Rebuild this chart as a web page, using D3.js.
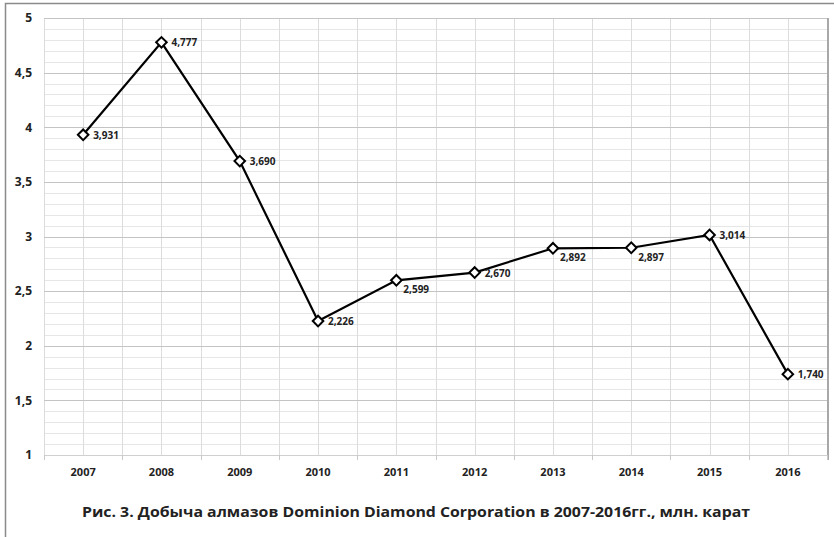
<!DOCTYPE html>
<html><head><meta charset="utf-8">
<script src="https://cdn.jsdelivr.net/npm/d3@7"></script>
<style>body{margin:0;background:#fff}svg{display:block}</style>
</head><body>
<svg id="c" width="834" height="537"></svg>
<script>
const years = ["2007","2008","2009","2010","2011","2012","2013","2014","2015","2016"];
const values = [3.931,4.777,3.690,2.226,2.599,2.670,2.892,2.897,3.014,1.740];
const labels = ["3,931","4,777","3,690","2,226","2,599","2,670","2,892","2,897","3,014","1,740"];
// label placement: "r" = right, "br" = below-right
const labelPos = ["r","r","r","r","br","r","br","br","r","r"];
const yTicks = [1,1.5,2,2.5,3,3.5,4,4.5,5];
const title = "Рис. 3. Добыча алмазов Dominion Diamond Corporation в 2007-2016гг., млн. карат";

const svg = d3.select("#c");
const font = "'Open Sans', 'DejaVu Sans', sans-serif";
const L = 44, R = 827, T = 18, B = 455;

svg.append("rect").attr("x",5.5).attr("y",3.5).attr("width",900).attr("height",600)
  .attr("fill","none").attr("stroke","#8a8a8a").attr("stroke-width",1.5);

const x = d3.scaleBand().domain(years).range([L,R]);
const y = d3.scaleLinear().domain([1,5]).range([B,T]);

const g = svg.append("g");
const minor = d3.range(10,51).map(d=>d/10).filter(v=>Math.abs(v*2-Math.round(v*2))>1e-6);
g.selectAll(".hm").data(minor).join("line")
  .attr("x1",L).attr("x2",R).attr("y1",d=>Math.round(y(d))+0.5).attr("y2",d=>Math.round(y(d))+0.5)
  .attr("stroke","#e6e6e6").attr("stroke-width",1);
const vlines = [];
years.forEach(yr=>{vlines.push(x(yr)); vlines.push(x(yr)+x.bandwidth()/2);});
vlines.push(R);
g.selectAll(".vg").data(vlines).join("line")
  .attr("x1",d=>Math.round(d)+0.5).attr("x2",d=>Math.round(d)+0.5).attr("y1",T).attr("y2",B)
  .attr("stroke","#dcdcdc").attr("stroke-width",1);
g.selectAll(".hM").data(yTicks).join("line")
  .attr("x1",L).attr("x2",R).attr("y1",d=>Math.round(y(d))+0.5).attr("y2",d=>Math.round(y(d))+0.5)
  .attr("stroke","#c4c4c4").attr("stroke-width",1);
g.append("line").attr("x1",R+1).attr("x2",R+1).attr("y1",T).attr("y2",B+5)
  .attr("stroke","#a8a8a8").attr("stroke-width",2);

const xa = svg.append("g").attr("transform",`translate(0,${B})`)
  .call(d3.axisBottom(x).tickSize(0).tickPadding(13));
xa.select(".domain").attr("stroke","#d0d0d0");
xa.selectAll("text").attr("font-family",font).attr("font-size",11).attr("font-weight","bold").attr("fill","#222");
svg.append("g").selectAll("line").data(years.map(yr=>x(yr)).concat([R])).join("line")
  .attr("x1",d=>Math.round(d)+0.5).attr("x2",d=>Math.round(d)+0.5).attr("y1",B).attr("y2",B+5)
  .attr("stroke","#c8c8c8");

const ya = svg.append("g").attr("transform",`translate(${L},0)`)
  .call(d3.axisLeft(y).tickValues(yTicks).tickSize(0).tickPadding(12)
    .tickFormat(d=>String(d).replace(".",",")));
ya.select(".domain").remove();
ya.selectAll("text").attr("font-family",font).attr("font-size",12).attr("font-weight","bold").attr("fill","#222");

const cx = i => x(years[i]) + x.bandwidth()/2;
const line = d3.line().x((d,i)=>cx(i)).y(d=>y(d));
svg.append("path").datum(values).attr("d",line).attr("fill","none")
  .attr("stroke","#000").attr("stroke-width",2.2);

svg.selectAll(".mk").data(values).join("path")
  .attr("d", d3.symbol(d3.symbolSquare, 56))
  .attr("transform",(d,i)=>`translate(${cx(i)},${y(d)}) rotate(45)`)
  .attr("fill","#fff").attr("stroke","#000").attr("stroke-width",2);

svg.selectAll(".lb").data(values).join("text")
  .attr("x",(d,i)=>cx(i) + (labelPos[i]==="br" ? 7 : 10))
  .attr("y",(d,i)=>y(d) + (labelPos[i]==="br" ? 13 : 4))
  .attr("font-family",font).attr("font-size",10).attr("font-weight","bold").attr("fill","#222")
  .text((d,i)=>labels[i]);

svg.append("text").attr("x",82).attr("y",517).attr("textLength",668).attr("lengthAdjust","spacingAndGlyphs")
  .attr("font-family",font).attr("font-size",15).attr("font-weight","bold").attr("fill","#222")
  .text(title);
</script>
</body></html>
